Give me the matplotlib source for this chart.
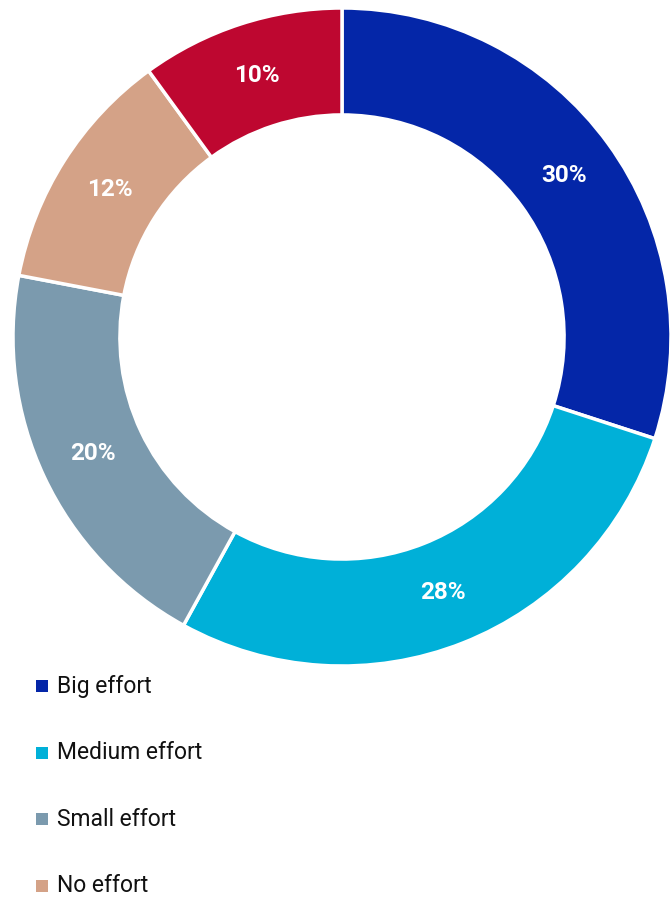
import matplotlib.pyplot as plt
from matplotlib.patches import Rectangle

plt.rcParams['font.family'] = ['Roboto', 'DejaVu Sans']

categories = ['Big effort', 'Medium effort', 'Small effort', 'No effort', 'Other']
shares = [30, 28, 20, 12, 10]
colors = ['#0426A8', '#00B0D8', '#7B9AAE', '#D4A287', '#BE0730']
legend_items = categories[:4]

W, H = 672, 901
fig = plt.figure(figsize=(W / 100, H / 100), dpi=100)

# donut
ax = fig.add_axes([13 / W, 1 - 666 / H, 658 / W, 658 / H])
wedges, texts = ax.pie(
    shares, colors=colors, startangle=90, counterclock=False, radius=1,
    wedgeprops=dict(width=0.325, edgecolor='white', linewidth=2.5),
    labels=[f'{v}%' for v in shares], labeldistance=0.835,
    textprops=dict(color='white', fontsize=17.5, fontweight='bold',
                   ha='center', va='center'))
ax.set_xlim(-1, 1)
ax.set_ylim(-1, 1)
ax.set_aspect('equal')
ax.axis('off')

# legend
for i, name in enumerate(legend_items):
    y = 686 + i * 66.5
    fig.patches.append(Rectangle((36 / W, 1 - (y + 6) / H), 12 / W, 12 / H,
                                 transform=fig.transFigure,
                                 facecolor=colors[i], edgecolor='none'))
    fig.text(57 / W, 1 - y / H, name, fontsize=16.5, color='#111111',
             ha='left', va='center')

fig.savefig('out.png', dpi=100, facecolor='white')
